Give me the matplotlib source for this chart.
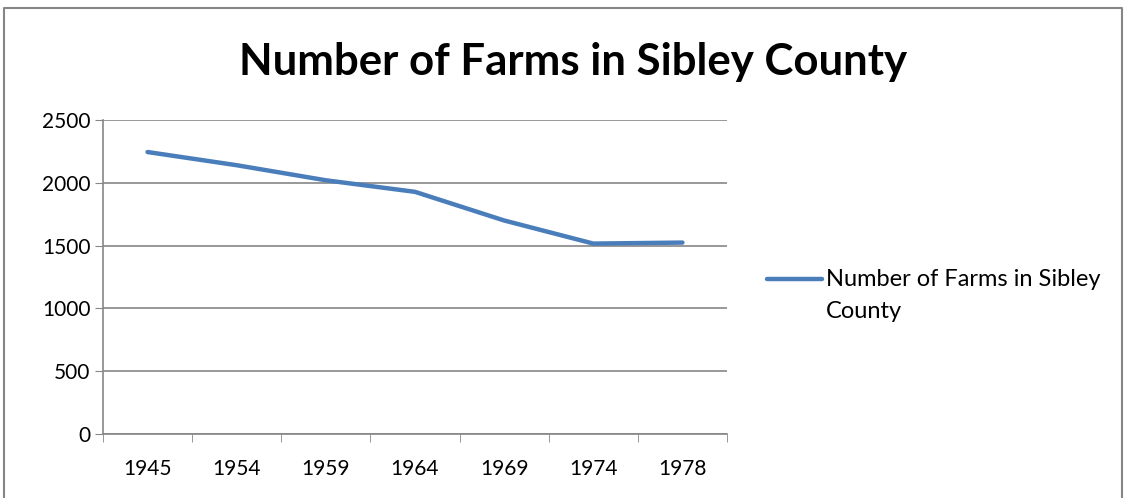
import matplotlib.pyplot as plt
from matplotlib.lines import Line2D

years = ['1945', '1954', '1959', '1964', '1969', '1974', '1978']
farms = [2245, 2140, 2020, 1928, 1700, 1516, 1524]
y_ticks = [0, 500, 1000, 1500, 2000, 2500]
series_name = 'Number of Farms in Sibley County'

plt.rcParams['font.family'] = ['Lato', 'DejaVu Sans']
grey = '#868686'
blue = '#4A7EBB'

fig = plt.figure(figsize=(11.3, 4.98), dpi=100)
ax = fig.add_axes([103 / 1130, 1 - 434 / 498, 624 / 1130, 314 / 498])

x = list(range(len(years)))
ax.plot(x, farms, color=blue, lw=3.2, solid_capstyle='round', solid_joinstyle='round')

ax.set_xlim(-0.5, len(years) - 0.5)
ax.set_ylim(0, 2500)
ax.set_yticks(y_ticks)
ax.set_xticks(x)
ax.set_xticklabels(years)
ax.set_xticks([i - 0.5 for i in range(len(years) + 1)], minor=True)
ax.tick_params(axis='x', which='major', length=0, pad=18, labelsize=15)
ax.tick_params(axis='x', which='minor', length=6, color=grey, direction='out')
ax.tick_params(axis='y', length=6, color=grey, direction='out', labelsize=15, pad=3)
ax.yaxis.grid(True, color=grey, lw=1.2)
ax.set_axisbelow(True)
for s in ['top', 'right']:
    ax.spines[s].set_visible(False)
for s in ['left', 'bottom']:
    ax.spines[s].set_color(grey)
    ax.spines[s].set_linewidth(1.2)

fig.text(573 / 1130, 1 - 62 / 498, series_name, ha='center', va='center',
         fontsize=31.5, fontweight='bold')

# legend drawn by hand so the key sits on the first text line
fig.add_artist(Line2D([767 / 1130, 822 / 1130], [1 - 279 / 498, 1 - 279 / 498],
                      color=blue, lw=3.2, solid_capstyle='round'))
fig.text(826 / 1130, 1 - 279 / 498, 'Number of Farms in Sibley', va='center', fontsize=17)
fig.text(826 / 1130, 1 - 311 / 498, 'County', va='center', fontsize=17)

# outer chart border
fig.add_artist(Line2D([4 / 1130, 4 / 1130, 1122 / 1130, 1122 / 1130],
                      [0, 1 - 8 / 498, 1 - 8 / 498, 0], color=grey, lw=1.5))

fig.savefig('out.png', dpi=100)
